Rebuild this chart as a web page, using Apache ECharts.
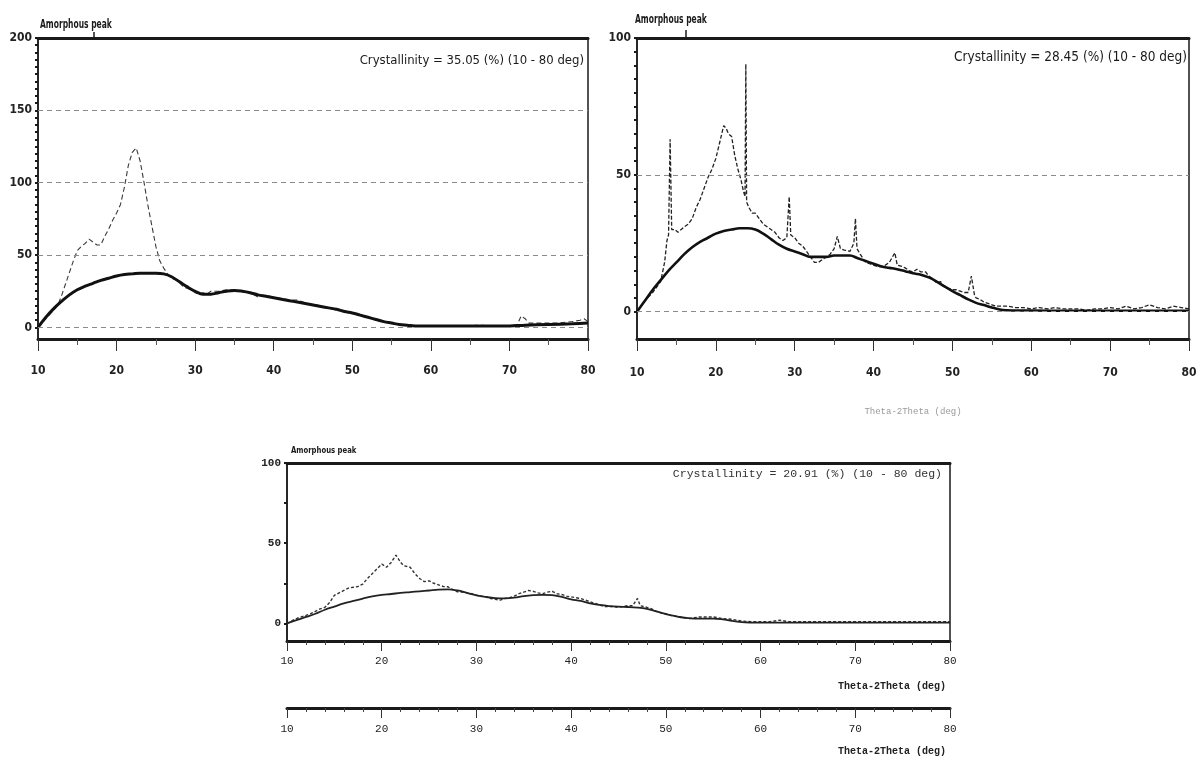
<!DOCTYPE html>
<html>
<head>
<meta charset="utf-8">
<script src="https://cdn.jsdelivr.net/npm/echarts@6/dist/echarts.min.js"></script>
<style>
html,body{margin:0;padding:0;background:#fff;}
#c{width:1201px;height:762px;}
</style>
</head>
<body>
<div id="c"></div>
<script>
// ---------- DATA ----------
// Chart 1 (top left)
const c1RawAngle = [10,10.5,11,11.5,12,12.5,13,13.5,14,14.5,15,15.5,16,16.5,17,17.5,18,18.5,19,19.5,20,20.5,21,21.5,22,22.5,23,23.5,24,24.5,25,25.5,26,26.5,27,27.5,28,28.5,29,29.5,30,30.5,31,31.5,32,33,34,35,36,37,38,39,40,41,42,43,44,45,46,47,48,49,50,51,52,53,54,55,56,57,58,60,62,64,66,68,70,71,71.5,72,72.5,74,76,78,79,79.5,80];
const c1RawInt   = [0,3,6,9,12,15,22,30,38,46,53,56,58,61,59,57,57,63,68,74,79,85,97,112,121,124,115,100,84,70,56,46,41,37,34,33,31,28,27,26,24,23,24,23,25,25,26,26,25,24,21,22,21,20,19,19,17,16,15,13,12,11,10,8,7,5,4,3,2,1.5,1,1,1,1,1.5,1,1,2,8,6,3,3,3,4,5,6,4];
const c1AmAngle = [10,11,12,13,14,15,16,17,18,19,20,21,22,23,24,25,26,27,28,29,30,31,32,33,34,35,36,37,38,39,40,41,42,43,44,45,46,47,48,49,50,51,52,53,54,55,56,57,58,60,65,70,72,75,78,80];
const c1AmInt   = [0,7,13,18,22.5,26,28.5,30.5,32.5,34,35.5,36.5,37,37.5,37.5,37.5,37,35,31.5,28,25,23,23,24,25,25.5,25,24,22.5,21.5,20.5,19.5,18.5,17.5,16.5,15.5,14.5,13.5,12.5,11,10,8.5,7,5.5,4,3,2,1.5,1,1,1,1,1.5,2,2.5,3];
const c1YLabels = [0,50,100,150,200];
const c1Grid = [0,50,100,150];
const c1Text = 'Crystallinity = 35.05 (%) (10 - 80 deg)';

// Chart 2 (top right)
const c2RawAngle = [10,10.5,11,11.5,12,12.5,13,13.5,13.8,14,14.2,14.4,14.8,15.2,15.6,16,16.5,17,17.5,18,18.5,19,19.5,20,20.5,21,21.3,21.6,22,22.4,22.8,23.2,23.5,23.7,23.8,23.9,24.2,24.6,25,25.5,26,26.5,27,27.5,28,28.5,29,29.3,29.5,30,30.5,31,31.5,32,32.5,33,33.5,34,34.5,35,35.4,35.8,36.3,37,37.5,37.7,37.9,38.3,39,39.5,40,40.5,41,41.5,42,42.7,43,43.6,44,44.5,45,45.5,46,46.6,47,47.5,48,48.5,49,49.5,50,50.5,51,51.5,52,52.4,52.8,53,53.5,54,54.5,55,55.5,56,57,58,59,60,61,62,63,64,65,66,67,68,69,70,71,72,73,74,75,76,77,78,79,80];
const c2RawInt   = [0,2,4,5.5,7,9,11,18,26,28,63,30,30,29,30,31,32,34,38,41,45,49,52,56,62,68,67,65,64,57,52,48,44,42,90.5,40,38,36,36,34,32,31,30,29,27,26,27,42,28,27,25,24,22,20,18,18,19,20,21,23,27.5,23,22.5,22,25,34,23,21,18,17.5,17,16.5,16.5,17,18,21.5,17,16.5,16,15,14.5,15.5,14.5,14.5,13,12,10.5,11,9,8.5,8,8,7.5,7,7,13,6,5,4.5,3.5,3,2.5,2,2,2,1.5,1.5,1,1.5,1,1.5,1,1,1,0.5,1,1,1.5,1,2,1,1.5,2.5,1.5,1,2,1.5,1];
const c2AmAngle = [10,11,12,13,14,15,16,17,18,19,20,21,22,23,24,25,26,27,28,29,30,31,32,33,34,35,36,37,38,39,40,41,42,43,44,45,46,47,48,49,50,51,52,53,54,55,56,57,58,60,65,70,75,80];
const c2AmInt   = [0,4,8,11.5,15,18,21,23.5,25.5,27,28.5,29.5,30,30.5,30.5,30,28.5,26.5,24.5,23,22,21,20,20,20,20.5,20.5,20.5,19.5,18.5,17.5,16.5,16,15.5,14.8,14,13.5,12.5,11,9.2,7.5,6,4.5,3.2,2.4,1.5,0.8,0.5,0.4,0.4,0.3,0.3,0.3,0.3];
const c2YLabels = [0,50,100];
const c2Grid = [0,50];
const c2Text = 'Crystallinity = 28.45 (%) (10 - 80 deg)';

// Chart 3 (bottom)
const c3RawAngle = [10,10.5,11,11.5,12,12.5,13,13.5,14,14.5,15,15.5,16,16.5,17,17.5,18,18.5,19,19.5,20,20.5,21,21.5,22,22.3,23,23.5,24,24.5,25,25.5,26,26.5,27,27.5,28,28.5,29,29.5,30,30.5,31,31.5,32,32.5,33,33.5,34,34.5,35,35.5,36,36.5,37,37.5,38,38.5,39,39.5,40,40.5,41,41.5,42,42.5,43,43.5,44,44.5,45,45.5,46,46.5,47,47.3,48,48.5,49,49.5,50,50.5,51,51.5,52,52.5,53,53.5,54,54.5,55,55.5,56,57,58,59,60,61,62,62.5,63,64,66,68,70,72,74,76,78,80];
const c3RawInt   = [0,1.5,3,4,5,6,7.5,9,10,13,17.5,19,20.5,22,22.5,23,24.5,28,31,34,37,35,38,42.5,38,36,35,31,28,26,26.5,25,24,23,22.8,21,19.7,19.5,19,18.5,17.5,17,16.5,15.5,15,14.5,15.5,16,17,18.5,19.5,20.5,20,19,18.5,19.5,20,18.5,18,17,16.5,16,15.5,14.5,13.5,12.5,11.5,10.5,10.5,10.5,10,10.5,11,11,15.5,11,10,9,7.5,6.5,6,5,4.5,4,3.5,3,3.5,4,4,4,4,3.5,3,2.5,1.5,1,1,1,2,1.5,1,1,1,1,1,1,1,1,1,1];
const c3AmAngle = [10,11,12,13,14,15,16,17,18,19,20,21,22,23,24,25,26,27,28,29,30,31,32,33,34,35,36,37,38,39,40,41,42,43,44,45,46,47,48,49,50,51,52,53,54,55,56,57,58,59,60,65,70,75,80];
const c3AmInt   = [0,2,4,6,8.5,10.5,12.5,14,15.5,16.8,17.7,18.3,19,19.5,20,20.5,21,21.2,20.5,19,17.5,16.5,15.8,15.6,16,17,17.6,17.8,17.6,16.5,15,14,12.5,11.5,10.8,10.4,10.2,9.8,9,7.5,5.8,4.5,3.5,3,3,3,2.5,1.5,0.8,0.5,0.4,0.4,0.4,0.4,0.4];
const c3YLabels = [0,50,100];
const c3YTicks = [0,25,50,75,100];
const c3Text = 'Crystallinity = 20.91 (%) (10 - 80 deg)';

const xAxisName = 'Theta-2Theta (deg)';
const peakLabel = 'Amorphous peak';

// ---------- HELPERS ----------
const zip = (a, b) => a.map((v, i) => [v, b[i]]);
const steps = (a, b, s) => { const r = []; for (let v = a; v <= b + 1e-9; v += s) r.push(v); return r; };

const NARROW = "'Liberation Sans Narrow','DejaVu Sans Condensed',sans-serif";
const MONO = "'Liberation Mono','DejaVu Sans Mono',monospace";
const INK = '#1a1a1a';

function bottomX(gridIndex, opts) {
  return Object.assign({
    type: 'value', gridIndex, position: 'bottom', min: 10, max: 80, interval: 10,
    axisLine: { show: true, onZero: false, lineStyle: { color: INK, width: 3 } },
    axisTick: { show: true, length: 12, lineStyle: { color: '#333', width: 1 } },
    minorTick: { show: true, splitNumber: 2, length: 6, lineStyle: { color: '#555', width: 1 } },
    axisLabel: { color: '#222', fontSize: 12, fontWeight: 'bold', fontFamily: NARROW, margin: 26 },
    splitLine: { show: false }
  }, opts || {});
}
function topX(gridIndex) {
  return {
    type: 'value', gridIndex, position: 'top', min: 10, max: 80,
    axisLine: { show: true, onZero: false, lineStyle: { color: INK, width: 3 } },
    axisTick: { show: false }, axisLabel: { show: false }, splitLine: { show: false }
  };
}
function leftY(gridIndex, min, max, labels, ticks, font) {
  return {
    type: 'value', gridIndex, min, max,
    axisLine: { show: true, onZero: false, lineStyle: { color: INK, width: 1.5 } },
    axisTick: { show: true, customValues: ticks, length: 3, lineStyle: { color: INK, width: 2 } },
    axisLabel: { show: true, customValues: labels, color: '#222', fontSize: font.size, fontWeight: 'bold', fontFamily: font.family, margin: 6 },
    splitLine: { show: false }
  };
}
function gridMarks(values) {
  return {
    silent: true, symbol: 'none', label: { show: false },
    lineStyle: { color: '#8a8a8a', type: [5, 4], width: 1 },
    data: values.map(v => ({ yAxis: v }))
  };
}
function lineSeries(xi, yi, data, style, extra) {
  return Object.assign({
    type: 'line', xAxisIndex: xi, yAxisIndex: yi, data, showSymbol: false, symbol: 'none',
    lineStyle: style, silent: true, z: 3
  }, extra || {});
}

const chart = echarts.init(document.getElementById('c'), null, { renderer: 'canvas' });

const option = {
  animation: false,
  backgroundColor: '#ffffff',
  grid: [
    { left: 38, top: 38, width: 550, height: 301, show: true, borderColor: INK, borderWidth: 1.5, backgroundColor: 'transparent' },
    { left: 637, top: 38, width: 552, height: 301, show: true, borderColor: INK, borderWidth: 1.5, backgroundColor: 'transparent' },
    { left: 287, top: 463, width: 663, height: 178, show: true, borderColor: INK, borderWidth: 1.5, backgroundColor: 'transparent' },
    { left: 287, top: 707, width: 663, height: 1, show: false }
  ],
  xAxis: [
    bottomX(0),
    topX(0),
    bottomX(1, {
      axisLabel: { color: '#222', fontSize: 12, fontWeight: 'bold', fontFamily: NARROW, margin: 28 },
      name: xAxisName, nameLocation: 'middle', nameGap: 68,
      nameTextStyle: { color: '#9a9a9a', fontSize: 9, fontFamily: MONO }
    }),
    topX(1),
    bottomX(2, {
      axisTick: { show: true, length: 10, lineStyle: { color: '#333', width: 1 } },
      minorTick: { show: true, splitNumber: 5, length: 4, lineStyle: { color: '#444', width: 1 } },
      axisLabel: { color: '#222', fontSize: 11, fontFamily: MONO, margin: 15 },
      name: xAxisName, nameLocation: 'end', nameGap: 0,
      nameTextStyle: { color: '#222', fontSize: 10, fontWeight: 'bold', fontFamily: MONO, align: 'right', verticalAlign: 'top', padding: [40, 4, 0, 0] }
    }),
    topX(2),
    bottomX(3, {
      axisTick: { show: true, length: 10, lineStyle: { color: '#333', width: 1 } },
      minorTick: { show: true, splitNumber: 5, length: 4, lineStyle: { color: '#444', width: 1 } },
      axisLabel: { color: '#222', fontSize: 11, fontFamily: MONO, margin: 16 },
      name: xAxisName, nameLocation: 'end', nameGap: 0,
      nameTextStyle: { color: '#222', fontSize: 10, fontWeight: 'bold', fontFamily: MONO, align: 'right', verticalAlign: 'top', padding: [38, 4, 0, 0] }
    })
  ],
  yAxis: [
    leftY(0, -8, 200, c1YLabels, steps(0, 200, 5), { size: 12, family: NARROW }),
    leftY(1, -10, 100, c2YLabels, steps(0, 100, 5), { size: 12, family: NARROW }),
    leftY(2, -11, 100, c3YLabels, c3YTicks, { size: 11, family: MONO }),
    { type: 'value', gridIndex: 3, min: 0, max: 1, show: false }
  ],
  series: [
    lineSeries(0, 0, zip(c1RawAngle, c1RawInt), { color: '#3a3a3a', width: 1.1, type: [5, 3] }, { markLine: gridMarks(c1Grid) }),
    lineSeries(0, 0, zip(c1AmAngle, c1AmInt), { color: '#111', width: 3 }, { smooth: 0.4, z: 4 }),
    lineSeries(2, 1, zip(c2RawAngle, c2RawInt), { color: '#222', width: 1.3, type: [4, 2] }, { markLine: gridMarks(c2Grid) }),
    lineSeries(2, 1, zip(c2AmAngle, c2AmInt), { color: '#111', width: 2.6 }, { smooth: 0.4, z: 4 }),
    lineSeries(4, 2, zip(c3RawAngle, c3RawInt), { color: '#333', width: 1.4, type: [3, 2] }),
    lineSeries(4, 2, zip(c3AmAngle, c3AmInt), { color: '#222', width: 1.8 }, { smooth: 0.4, z: 4 })
  ],
  graphic: [
    { type: 'text', x: 40, y: 19, scaleX: 0.7, style: { text: peakLabel, fill: INK, font: "bold 12px " + NARROW } },
    { type: 'line', shape: { x1: 94, y1: 32, x2: 94, y2: 38 }, style: { stroke: INK, lineWidth: 1.5 } },
    { type: 'text', x: 635, y: 14, scaleX: 0.7, style: { text: peakLabel, fill: INK, font: "bold 12px " + NARROW } },
    { type: 'line', shape: { x1: 686, y1: 30, x2: 686, y2: 38 }, style: { stroke: INK, lineWidth: 1.5 } },
    { type: 'text', x: 291, y: 446, scaleX: 0.85, style: { text: peakLabel, fill: INK, font: "bold 9px " + NARROW } },
    { type: 'text', right: 1201 - 584, top: 54, style: { text: c1Text, fill: INK, font: "13px " + NARROW } },
    { type: 'text', right: 1201 - 1187, top: 50, style: { text: c2Text, fill: INK, font: "13.5px " + NARROW } },
    { type: 'text', right: 1201 - 942, top: 468, style: { text: c3Text, fill: '#333', font: "11.5px " + MONO } }
  ]
};
chart.setOption(option);
</script>
</body>
</html>
